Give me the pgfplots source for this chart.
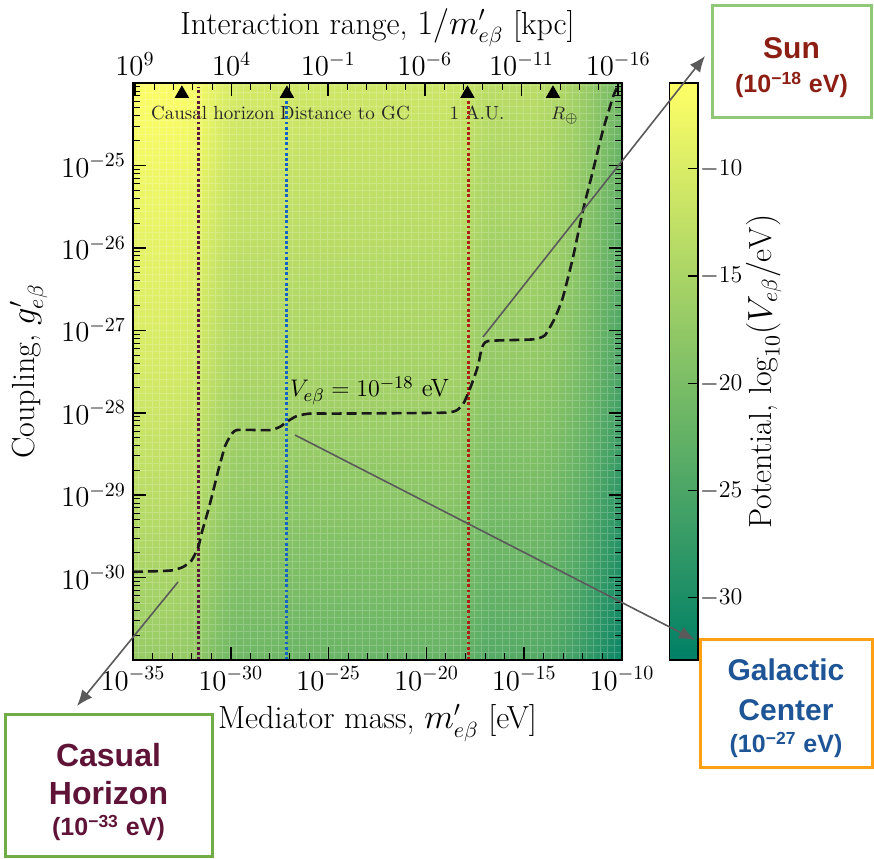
\documentclass[border=0pt]{standalone}
\usepackage{pgfplots}
\usepackage{pgfplotstable}
\pgfplotsset{compat=1.18}
\usepackage{fontspec}
\usetikzlibrary{arrows.meta}
\newfontfamily\boxfont{Liberation Sans}
\definecolor{hpurple}{RGB}{92,22,62}
\definecolor{hblue}{RGB}{20,100,200}
\definecolor{hred}{RGB}{175,30,20}
\definecolor{sunred}{RGB}{140,30,20}
\definecolor{gcblue}{RGB}{30,85,150}
\definecolor{chmaroon}{RGB}{95,20,55}
\definecolor{boxgreenA}{RGB}{145,200,120}
\definecolor{boxgreenB}{RGB}{112,173,71}
\definecolor{boxorange}{RGB}{255,160,20}
\definecolor{arrowgrey}{RGB}{90,90,90}

\pgfplotstableread{
lm lg c
-35 -31 -17.00
-33 -31 -17.06
-32 -31 -17.44
-31.5 -31 -18.21
-31 -31 -19.20
-30.5 -31 -20.19
-30 -31 -20.85
-29.5 -31 -21.18
-27.5 -31 -21.29
-26.5 -31 -21.73
-19 -31 -22.06
-18 -31 -22.50
-17.2 -31 -23.60
-16.8 -31 -23.93
-14.5 -31 -24.04
-13.5 -31 -24.70
-12.5 -31 -26.02
-11.5 -31 -28.22
-10.5 -31 -30.64
-10 -31 -31.85
-35 -27.5 -10.50
-33 -27.5 -10.56
-32 -27.5 -10.94
-31.5 -27.5 -11.71
-31 -27.5 -12.70
-30.5 -27.5 -13.69
-30 -27.5 -14.35
-29.5 -27.5 -14.68
-27.5 -27.5 -14.79
-26.5 -27.5 -15.23
-19 -27.5 -15.56
-18 -27.5 -16.00
-17.2 -27.5 -17.10
-16.8 -27.5 -17.43
-14.5 -27.5 -17.54
-13.5 -27.5 -18.20
-12.5 -27.5 -19.52
-11.5 -27.5 -21.72
-10.5 -27.5 -24.14
-10 -27.5 -25.35
-35 -24 -6.30
-33 -24 -6.36
-32 -24 -6.74
-31.5 -24 -7.51
-31 -24 -8.50
-30.5 -24 -9.49
-30 -24 -10.15
-29.5 -24 -10.48
-27.5 -24 -10.59
-26.5 -24 -11.03
-19 -24 -11.36
-18 -24 -11.80
-17.2 -24 -12.90
-16.8 -24 -13.23
-14.5 -24 -13.34
-13.5 -24 -14.00
-12.5 -24 -15.32
-11.5 -24 -17.52
-10.5 -24 -19.94
-10 -24 -21.15
}\heatdata

\pgfplotstableread{
lm lg
-35.00 -29.93
-33.50 -29.92
-32.94 -29.91
-32.43 -29.87
-32.00 -29.79
-31.66 -29.63
-31.49 -29.46
-31.15 -29.18
-30.89 -28.94
-30.64 -28.70
-30.30 -28.41
-30.04 -28.29
-29.70 -28.21
-28.00 -28.21
-27.48 -28.17
-27.14 -28.11
-26.63 -28.04
-25.95 -28.01
-24.59 -28.01
-19.14 -28.00
-18.45 -27.97
-18.11 -27.89
-17.86 -27.76
-17.60 -27.60
-17.35 -27.42
-17.17 -27.22
-16.85 -27.13
-14.55 -27.11
-13.94 -27.06
-13.43 -26.85
-13.02 -26.60
-12.50 -26.11
-11.99 -25.54
-11.48 -25.06
-10.97 -24.57
-10.46 -24.17
-10.20 -24.02
-10.05 -23.90
}\contourdata

\pgfplotstableread{
lm lg
-32.50 -24.13
-27.13 -24.13
-17.90 -24.13
-13.53 -24.13
}\triangledata

\pgfplotstableread{
lm lg
-31.65 -31
-31.65 -24.05
}\lineA
\pgfplotstableread{
lm lg
-27.13 -31
-27.13 -24.1
}\lineB
\pgfplotstableread{
lm lg
-17.86 -31
-17.86 -24.1
}\lineC

\begin{document}
\begin{tikzpicture}[x=1pt,y=1pt]
\useasboundingbox (0,0) rectangle (437,429);
\begin{axis}[
  at={(66.5pt,99pt)}, anchor=south west,
  scale only axis, width=244.5pt, height=288.5pt,
  xmode=log, ymode=log,
  xmin=1e-35, xmax=1e-10, ymin=1e-31, ymax=1e-24,
  xtick={1e-35,1e-30,1e-25,1e-20,1e-15,1e-10},
  minor xtick={1e-34,1e-33,1e-32,1e-31,1e-29,1e-28,1e-27,1e-26,1e-24,1e-23,1e-22,1e-21,1e-19,1e-18,1e-17,1e-16,1e-14,1e-13,1e-12,1e-11},
  xtick pos=bottom,
  ytick={1e-31,1e-30,1e-29,1e-28,1e-27,1e-26,1e-25,1e-24},
  yticklabels={,$10^{-30}$,$10^{-29}$,$10^{-28}$,$10^{-27}$,$10^{-26}$,$10^{-25}$,},
  tick align=inside,
  major tick length=6.5pt, minor tick length=3.5pt,
  major tick style={line width=0.8pt, black},
  minor tick style={line width=0.5pt, black},
  axis line style={line width=0.8pt, black},
  tick label style={font=\fontsize{14}{16}\selectfont},
  label style={font=\fontsize{16}{18}\selectfont},
  xlabel={Mediator mass, $m'_{e\beta}$ [eV]},
  ylabel={Coupling, $g'_{e\beta}$},
  axis on top,
  colormap={summer}{rgb255(0cm)=(0,128,102); rgb255(1cm)=(255,255,102)},
  point meta min=-32.9, point meta max=-6.0,
  colorbar,
  colorbar style={
    at={(parent axis.north east)}, anchor=north west, xshift=15.25pt,
    scale only axis, width=14.25pt, height=288.5pt,
    ytick={-30,-25,-20,-15,-10},
    ytick pos=right, yticklabel pos=right,
    tick align=inside, major tick length=5pt,
    major tick style={line width=0.6pt, black},
    axis line style={line width=0.6pt, black},
    yticklabel style={font=\fontsize{13}{15}\selectfont, xshift=-2.5pt},
    ylabel={Potential, $\log_{10}(V_{e\beta}/\mathrm{eV})$},
    ylabel style={font=\fontsize{16}{18}\selectfont},
    ylabel shift=-5pt,
  },
]
\addplot[surf, shader=interp, mesh/cols=20, point meta=explicit]
  table[x expr={10^(\thisrow{lm})}, y expr={10^(\thisrow{lg})}, meta=c] {\heatdata};
\draw[white, opacity=0.2, line width=0.35pt, step=3.5pt] (rel axis cs:0,0) grid (rel axis cs:1,1);
\node[anchor=base west, font=\fontsize{9.5}{11}\selectfont, text=black!85] at (rel axis cs:0.0225,0.936) {Causal horizon};
\node[anchor=base west, font=\fontsize{9.5}{11}\selectfont, text=black!85] at (rel axis cs:0.2863,0.936) {Distance to GC};
\node[anchor=base west, font=\fontsize{9.5}{11}\selectfont, text=black!85] at (rel axis cs:0.633,0.936) {1 A.U.};
\node[anchor=base west, font=\fontsize{9.5}{11}\selectfont, text=black!85] at (rel axis cs:0.8405,0.936) {$R_{\oplus}$};
\node[anchor=base west, font=\fontsize{12.5}{14}\selectfont] at (rel axis cs:0.3067,0.456) {$V_{e\beta}=10^{-18}$ eV};
\addplot[hpurple, line width=1.5pt, dash pattern=on 1.4pt off 1.2pt]
  table[x expr={10^(\thisrow{lm})}, y expr={10^(\thisrow{lg})}] {\lineA};
\addplot[hblue, line width=1.5pt, dash pattern=on 1.4pt off 1.2pt]
  table[x expr={10^(\thisrow{lm})}, y expr={10^(\thisrow{lg})}] {\lineB};
\addplot[hred, line width=1.5pt, dash pattern=on 1.4pt off 1.2pt]
  table[x expr={10^(\thisrow{lm})}, y expr={10^(\thisrow{lg})}] {\lineC};
\addplot[black!90, line width=1.3pt, dash pattern=on 5pt off 2.5pt, smooth, tension=0.3]
  table[x expr={10^(\thisrow{lm})}, y expr={10^(\thisrow{lg})}] {\contourdata};
\addplot[only marks, mark=triangle*, mark size=3.8pt, black]
  table[x expr={10^(\thisrow{lm})}, y expr={10^(\thisrow{lg})}] {\triangledata};
\end{axis}
\begin{axis}[
  at={(66.5pt,99pt)}, anchor=south west,
  scale only axis, width=244.5pt, height=288.5pt,
  xmode=log, x dir=reverse, xmin=6.31e-17, xmax=1.259e9,
  ymin=0, ymax=1, hide y axis, axis x line*=top,
  x axis line style={-, line width=0.8pt, black},
  xtick={1e9,1e4,1e-1,1e-6,1e-11,1e-16},
  minor xtick={1e8,1e7,1e6,1e5,1e3,1e2,1e1,1e0,1e-2,1e-3,1e-4,1e-5,1e-7,1e-8,1e-9,1e-10,1e-12,1e-13,1e-14,1e-15},
  tick align=inside,
  major tick length=6.5pt, minor tick length=3.5pt,
  major tick style={line width=0.8pt, black},
  minor tick style={line width=0.5pt, black},
  tick label style={font=\fontsize{14}{16}\selectfont},
  label style={font=\fontsize{16}{18}\selectfont},
  xlabel shift=-4pt,
  xlabel={Interaction range, $1/m'_{e\beta}$ [kpc]},
]
\addplot[draw=none] coordinates {(1,0.5)};
\end{axis}
% annotation boxes
\draw[boxgreenA, line width=1.5pt] (356,370) rectangle (435.5,426);
\node[font={\fontsize{15}{18}\boxfont\bfseries}, text=sunred] at (395.75,405) {Sun};
\node[font={\fontsize{12.5}{15}\boxfont\bfseries}, text=sunred] at (395.75,386.5) {(10\textsuperscript{−18} eV)};
\draw[boxorange, line width=1.5pt] (350,45) rectangle (436,109);
\node[font={\fontsize{15}{18}\boxfont\bfseries}, text=gcblue] at (393,94) {Galactic};
\node[font={\fontsize{15}{18}\boxfont\bfseries}, text=gcblue] at (393,74) {Center};
\node[font={\fontsize{12.5}{15}\boxfont\bfseries}, text=gcblue] at (393,56.5) {(10\textsuperscript{−27} eV)};
\draw[boxgreenB, line width=1.5pt] (2.5,1) rectangle (106,71.5);
\node[font={\fontsize{16}{19}\boxfont\bfseries}, text=chmaroon] at (54.25,51.5) {Casual};
\node[font={\fontsize{16}{19}\boxfont\bfseries}, text=chmaroon] at (54.25,32.5) {Horizon};
\node[font={\fontsize{12.5}{15}\boxfont\bfseries}, text=chmaroon] at (54.25,15) {(10\textsuperscript{−33} eV)};
% arrows
\draw[arrowgrey, line width=0.8pt, -{Latex[length=8pt,width=6.5pt]}] (241.5,260.5) -- (352.5,401);
\draw[arrowgrey, line width=0.8pt, -{Latex[length=8pt,width=6.5pt]}] (147.5,211.5) -- (347.5,109);
\draw[arrowgrey, line width=0.8pt, -{Latex[length=8pt,width=6.5pt]}] (89,138) -- (38.5,76);
\end{tikzpicture}
\end{document}
